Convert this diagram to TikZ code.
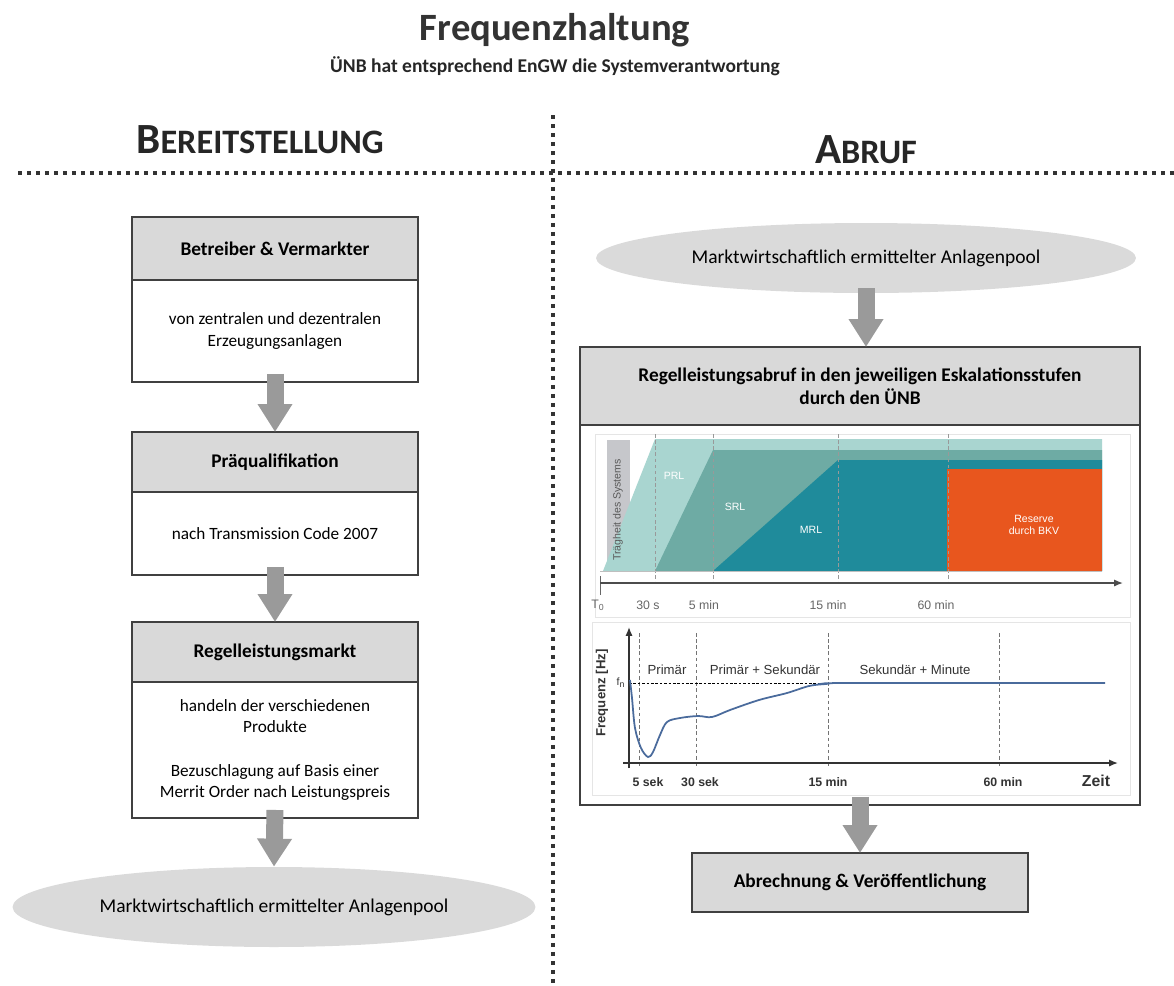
\documentclass[tikz,border=0pt]{standalone}
\usepackage{fontspec}
\setmainfont{Carlito}
\newfontfamily\chartfont{Liberation Sans}
\usetikzlibrary{positioning,arrows.meta,shapes.geometric}

\definecolor{headgray}{HTML}{D9D9D9}
\definecolor{poolgray}{HTML}{DADADA}
\definecolor{boxline}{HTML}{404040}
\definecolor{arrowgray}{HTML}{9A9A9A}
\definecolor{sepcol}{HTML}{333333}
\definecolor{prlcol}{HTML}{A9D5D0}
\definecolor{srlcol}{HTML}{6EABA4}
\definecolor{mrlcol}{HTML}{1F8B9B}
\definecolor{bkvcol}{HTML}{E8561E}
\definecolor{tragcol}{HTML}{C6C7CB}
\definecolor{curvecol}{HTML}{4A6B9C}

\begin{document}
\begin{tikzpicture}[x=0.02cm, y=-0.02cm,
    head/.style={draw=boxline, fill=headgray, line width=1pt, outer sep=0pt, align=center, font=\fontsize{11}{13}\selectfont\bfseries, minimum width=5.72cm},
    body/.style={draw=boxline, fill=white, line width=1pt, outer sep=0pt, align=center, font=\fontsize{9.8}{12.3}\selectfont, minimum width=5.72cm},
    pool/.style={ellipse, fill=poolgray, inner sep=0pt, font=\fontsize{11.1}{13}\selectfont},
    fatarrow/.style={line width=0.34cm, draw=arrowgray, -{Triangle[width=0.66cm,length=0.56cm]}},
    sepline/.style={line width=0.08cm, draw=sepcol, dash pattern=on 0.08cm off 0.1cm},
    section/.style={font=\bfseries, text=black!85},
    lbl/.style={font=\chartfont\fontsize{7}{8}\selectfont, text=black!60, inner sep=0pt},
    inlbl/.style={font=\chartfont\fontsize{6}{7}\selectfont, text=white, inner sep=0pt, align=center},
    flbl/.style={font=\chartfont\fontsize{7.5}{9}\selectfont, text=black!80, inner sep=0pt},
    blbl/.style={font=\chartfont\bfseries\fontsize{7}{8}\selectfont, text=black!80, inner sep=0pt},
    vdash/.style={draw=black!55, line width=0.4pt, dash pattern=on 2pt off 1.5pt}
]
    \useasboundingbox (0,0) rectangle (1174,985);

    \node[font=\fontsize{22}{24}\selectfont\bfseries, text=black!80] (title) at (555,30) {Frequenzhaltung};
    \node[font=\fontsize{11.1}{13}\selectfont\bfseries, text=black!85] (subtitle) at (555,66) {ÜNB hat entsprechend EnGW die Systemverantwortung};

    \draw[sepline] (553,115) -- (553,985);
    \draw[sepline] (18,173) -- (1174,173);

    \node[section] (bereit) at (260,140) {{\fontsize{24.5}{26}\selectfont B}{\fontsize{19.5}{22}\selectfont EREITSTELLUNG}};
    \node[section] (abruf) at (866,150) {{\fontsize{24.5}{26}\selectfont A}{\fontsize{19.5}{22}\selectfont BRUF}};

    % Bereitstellung
    \node[head, minimum height=1.26cm] (bvhead) at (275,248.5) {Betreiber \& Vermarkter};
    \node[body, minimum height=2.04cm, below=0pt of bvhead] (bvbody) {von zentralen und dezentralen\\Erzeugungsanlagen};

    \node[head, minimum height=1.2cm] (pqhead) at (275,462) {Präqualifikation};
    \node[body, minimum height=1.66cm, below=0pt of pqhead] (pqbody) {nach Transmission Code 2007};

    \node[head, minimum height=1.2cm] (rmhead) at (275,652) {Regelleistungsmarkt};
    \node[body, minimum height=2.72cm, below=0pt of rmhead] (rmbody) {handeln der verschiedenen\\Produkte\\[12.3pt]Bezuschlagung auf Basis einer\\Merrit Order nach Leistungspreis};

    \node[pool, minimum width=10.46cm, minimum height=1.6cm] (poolL) at (274,907) {Marktwirtschaftlich ermittelter Anlagenpool};

    \draw[fatarrow] ([yshift=0.16cm]bvbody.south) -- (pqhead.north);
    \draw[fatarrow] ([yshift=0.16cm]pqbody.south) -- (rmhead.north);
    \draw[fatarrow] ([yshift=0.16cm]rmbody.south) -- (poolL.north);

    % Abruf
    \node[pool, minimum width=10.8cm, minimum height=1.4cm] (poolR) at (866,258) {Marktwirtschaftlich ermittelter Anlagenpool};
    \node[head, minimum width=11.2cm, minimum height=1.56cm] (rlhead) at (860,386) {Regelleistungsabruf in den jeweiligen Eskalationsstufen\\durch den ÜNB};
    \node[body, minimum width=11.2cm, minimum height=7.6cm, below=0pt of rlhead] (rlbody) {};
    \node[head, minimum width=6.72cm, minimum height=1.18cm] (abrech) at (860,882.5) {Abrechnung \& Veröffentlichung};

    \draw[fatarrow] ([yshift=0.1cm]poolR.south) -- (poolR.south |- rlhead.north);
    \draw[fatarrow] ([yshift=0.16cm]rlbody.south) -- (abrech.north);

    % Einsatzreihenfolge
    \draw[black!10] (595,434) rectangle (1130,617);
    \fill[tragcol] (607,440) rectangle (630,571);
    \fill[prlcol] (603,571) -- (655,439) -- (1102,439) -- (1102,571) -- cycle;
    \fill[srlcol] (655,571) -- (713,450) -- (1102,450) -- (1102,571) -- cycle;
    \fill[mrlcol] (713,571) -- (838,460) -- (1102,460) -- (1102,571) -- cycle;
    \fill[bkvcol] (947,469) rectangle (1102,571);
    \foreach \x in {655,713,838,948}
        \draw[vdash, draw=black!40] (\x,434) -- (\x,582);
    \draw[black!25] (600,571) -- (1102,571);
    \draw[black!60, line width=0.5pt] (600,576) -- (600,595);
    \draw[black!70, line width=0.8pt, -{Latex[length=5pt,width=4pt]}] (600,583) -- (1123,583);

    \node[inlbl, text=black!65, rotate=90] (traeg) at (618,510) {Trägheit des Systems};
    \node[inlbl] (prl) at (674,476) {PRL};
    \node[inlbl] (srl) at (735,507) {SRL};
    \node[inlbl] (mrl) at (811,530) {MRL};
    \node[inlbl] (bkv) at (1034,525) {Reserve\\durch BKV};

    \node[lbl] (t0) at (598,605) {T\textsubscript{0}};
    \foreach \x/\t [count=\i] in {648/30 s, 704/5 min, 828/15 min, 936/60 min}
        \node[lbl] (tk\i) at (\x,605) {\t};

    % Frequenzverlauf
    \draw[black!10] (592,622) rectangle (1130,795);
    \foreach \x in {639,696,828,999}
        \draw[vdash] (\x,633) -- (\x,768);
    \draw[black, line width=0.5pt, dash pattern=on 1.5pt off 1pt] (629,683) -- (1105,683);
    \draw[black!80, line width=0.8pt, -{Latex[length=5pt,width=4pt]}] (629,768) -- (629,627);
    \draw[black!80, line width=0.8pt, -{Latex[length=5pt,width=4pt]}] (623,763) -- (1118,763);
    \draw[curvecol, line width=1pt] plot[smooth, tension=0.55] coordinates {(630,680) (632,698) (635,728) (641,748) (648,757) (653,752) (660,735) (667,722) (680,718) (698,716) (712,717) (730,710) (759,700) (787,693) (809,686) (826,684) (850,683) (1105,683)};

    \node[flbl] (pr) at (667,670) {Primär};
    \node[flbl] (prsek) at (765,670) {Primär + Sekundär};
    \node[flbl] (sekmin) at (915,670) {Sekundär + Minute};
    \node[blbl, font=\chartfont\fontsize{6}{7}\selectfont] (fn) at (621,683) {f\textsubscript{n}};
    \node[blbl, font=\chartfont\bfseries\fontsize{7.5}{9}\selectfont, rotate=90] (freq) at (602,693) {Frequenz [Hz]};
    \foreach \x/\t [count=\i] in {648/5 sek, 700/30 sek, 828/15 min, 1003/60 min}
        \node[blbl] (zk\i) at (\x,782) {\t};
    \node[blbl, font=\chartfont\bfseries\fontsize{9}{10}\selectfont] (zeit) at (1096,781) {Zeit};

\end{tikzpicture}
\end{document}
